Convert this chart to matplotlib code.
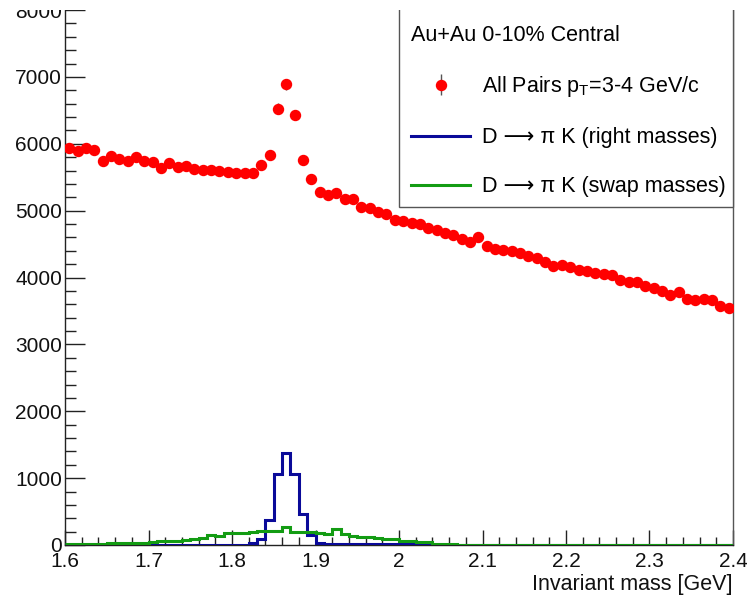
import numpy as np
import matplotlib
matplotlib.use("Agg")
import matplotlib.pyplot as plt
from matplotlib.patches import Rectangle
from matplotlib.ticker import MultipleLocator, FuncFormatter

plt.rcParams['font.family'] = ['Liberation Sans', 'DejaVu Sans']
plt.rcParams['mathtext.fontset'] = 'custom'
plt.rcParams['mathtext.rm'] = 'Liberation Sans'

# invariant mass binning: 80 bins of 10 MeV between 1.6 and 2.4 GeV
edges = np.round(np.linspace(1.6, 2.4, 81), 3)
centers = 0.5 * (edges[:-1] + edges[1:])

# all pairs, pT = 3-4 GeV/c
all_pairs = [
    5940, 5896, 5940, 5905, 5736, 5821, 5766, 5746, 5806, 5736,
    5721, 5642, 5711, 5657, 5667, 5627, 5607, 5607, 5597, 5582,
    5557, 5557, 5567, 5682, 5831, 6527, 6891, 6428, 5756, 5473,
    5284, 5234, 5269, 5169, 5169, 5060, 5035, 4985, 4950, 4861,
    4841, 4811, 4801, 4741, 4716, 4667, 4642, 4577, 4527, 4602,
    4478, 4428, 4413, 4393, 4363, 4328, 4294, 4239, 4179, 4194,
    4154, 4114, 4094, 4070, 4055, 4030, 3965, 3940, 3930, 3866,
    3846, 3796, 3731, 3781, 3682, 3667, 3682, 3657, 3567, 3548,
]

# D -> pi K with correct mass assignment
right_masses = [
    2, 2, 2, 2, 2, 2, 2, 2, 2, 2,
    2, 2, 2, 2, 2, 2, 2, 2, 2, 2,
    3, 5, 25, 95, 375, 1065, 1372, 1060, 460, 150,
    35, 15, 10, 10, 10, 10, 10, 10, 10, 10,
    10, 10, 10, 10, 2, 2, 2, 2, 2, 2,
    2, 2, 2, 2, 2, 2, 2, 2, 2, 2,
    2, 2, 2, 2, 2, 2, 2, 2, 2, 2,
    2, 2, 2, 2, 2, 2, 2, 2, 2, 2,
]

# D -> pi K with swapped mass assignment
swap_masses = [
    8, 10, 15, 15, 18, 25, 25, 30, 35, 35,
    40, 55, 60, 65, 80, 90, 110, 155, 130, 175,
    185, 185, 200, 205, 215, 215, 268, 195, 195, 200,
    172, 170, 232, 160, 135, 120, 115, 110, 95, 85,
    65, 60, 45, 40, 20, 10, 8, 6, 5, 4,
    3, 3, 3, 3, 3, 3, 3, 3, 3, 3,
    3, 3, 3, 3, 3, 3, 3, 3, 3, 3,
    3, 3, 3, 3, 3, 3, 3, 3, 3, 3,
]

red = '#ff0000'
blue = '#0a0a99'
green = '#139c13'
axis_col = '#222222'

fig = plt.figure(figsize=(7.47, 5.96), dpi=100)
ax = fig.add_axes([65 / 747, 51 / 596, 668 / 747, 535 / 596])

ax.errorbar(centers, all_pairs, yerr=np.sqrt(all_pairs), fmt='o', color=red,
            ms=7.2, mec=red, ecolor='#555555', elinewidth=1, capsize=0, zorder=3)
ax.stairs(right_masses, edges, color=blue, lw=2.2, baseline=None, zorder=4)
ax.stairs(swap_masses, edges, color=green, lw=2.2, baseline=None, zorder=5)

ax.set_xlim(1.6, 2.4)
ax.set_ylim(0, 8000)

ax.spines['top'].set_visible(False)
for s in ('left', 'bottom'):
    ax.spines[s].set_color(axis_col)
    ax.spines[s].set_linewidth(1.0)
ax.spines['right'].set_color('#555555')
ax.spines['right'].set_linewidth(1.0)

ax.xaxis.set_major_locator(MultipleLocator(0.1))
ax.xaxis.set_minor_locator(MultipleLocator(0.02))
ax.yaxis.set_major_locator(MultipleLocator(1000))
ax.yaxis.set_minor_locator(MultipleLocator(200))
ax.xaxis.set_major_formatter(FuncFormatter(lambda v, p: '%g' % round(v, 2)))
ax.yaxis.set_major_formatter(FuncFormatter(lambda v, p: '%d' % v))

ax.tick_params(axis='both', which='both', direction='in', colors=axis_col,
               top=False, right=False, labelsize=15)
ax.tick_params(axis='x', which='major', length=11, width=1.0, pad=5.0)
ax.tick_params(axis='x', which='minor', length=5.8, width=1.0)
ax.tick_params(axis='y', which='major', length=14.5, width=1.0, pad=2.2)
ax.tick_params(axis='y', which='minor', length=8, width=1.0)
ax.tick_params(labelcolor='#111111')

ax.set_xlabel('Invariant mass [GeV]', fontsize=15.5, loc='right', color='#111111')
ax.xaxis.set_label_coords(1.0, -0.054)

# legend box: left edge at mass 2.0 line, open towards the top
leg_bottom = (545 - 207) / 535
ax.add_patch(Rectangle((0.5, leg_bottom), 0.5, 0.5, transform=ax.transAxes,
                       facecolor='white', edgecolor='#555555', lw=1.0,
                       clip_on=False, zorder=6))

err_handle = ax.errorbar([], [], yerr=[], fmt='o', color=red, ms=7.2,
                         ecolor='#555555', elinewidth=1, capsize=0)
blue_handle = plt.Line2D([], [], color=blue, lw=2.2)
green_handle = plt.Line2D([], [], color=green, lw=2.2)
labels = ['All Pairs p$_{\\mathregular{T}}$=3-4 GeV/c',
          'D \u27f6 \u03c0 K (right masses)',
          'D \u27f6 \u03c0 K (swap masses)']
leg = ax.legend([err_handle, blue_handle, green_handle], labels,
                title='Au+Au 0-10% Central', alignment='left',
                loc='lower left', bbox_to_anchor=(0.5, leg_bottom - 0.004),
                borderaxespad=0, frameon=False, fontsize=15.5, title_fontsize=15.5,
                handlelength=2.75, handletextpad=0.56, borderpad=0.56,
                labelspacing=1.3)
leg.set_zorder(7)

# blank strip along the top edge
fig.add_artist(Rectangle((0, 1 - 10 / 596), 1, 10 / 596, transform=fig.transFigure,
                         facecolor='white', edgecolor='none', zorder=100))

fig.savefig('out.png', dpi=100)
